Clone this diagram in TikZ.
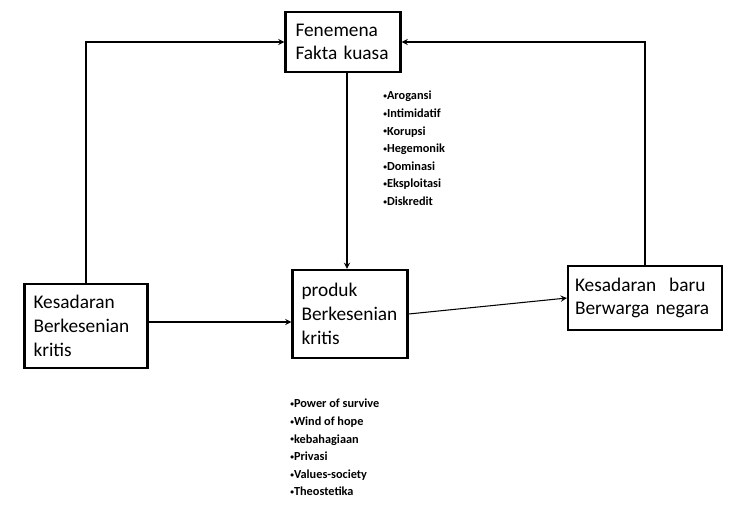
\documentclass[tikz,border=0pt]{standalone}
\usepackage{fontspec}
\setmainfont{Carlito}
\newcommand{\titik}{\raisebox{0.2ex}{\scalebox{0.6}{•}}}
\begin{document}
\begin{tikzpicture}[x=0.02cm,y=-0.02cm,
    kotak/.style={draw,line width=1.2pt,align=left,anchor=center,inner sep=0pt,font=\fontsize{11}{13.5}\selectfont},
    daftar/.style={align=left,anchor=north west,inner sep=0pt,font=\bfseries\fontsize{7}{10}\selectfont},
    panah/.style={->,>=stealth,line width=0.6pt}]
    \useasboundingbox (0,0) rectangle (732,504);

    % 绘制方框
    \node[kotak,minimum width=115*0.02cm,minimum height=60*0.02cm,text width=95*0.02cm] (fakta) at (343,42) {Fenemena\\Fakta kuasa};
    \node[kotak,minimum width=123*0.02cm,minimum height=84*0.02cm,text width=105*0.02cm] (kiri) at (86,326) {Kesadaran\\Berkesenian\\kritis};
    \node[kotak,minimum width=115*0.02cm,minimum height=88*0.02cm,text width=97*0.02cm] (produk) at (350,314) {produk\\Berkesenian\\kritis};
    \node[kotak,minimum width=154*0.02cm,minimum height=64*0.02cm,text width=140*0.02cm] (baru) at (645,298) {Kesadaran~ baru\\Berwarga negara};

    % 绘制连线
    \coordinate (atas) at (347,72);
    \coordinate (kanan) at (148,322);
    \draw[panah] (kiri.north) |- (fakta.west);
    \draw[panah] (baru.north) |- (fakta.east);
    \draw[panah] (atas) -- (atas |- produk.north);
    \draw[panah] (kanan) -- (kanan -| produk.west);
    \draw[panah] (produk.east) -- (baru.west);

    % 绘制列表
    \node[daftar] (kuasa) at (383,91) {\titik Arogansi\\\titik Intimidatif\\\titik Korupsi\\\titik Hegemonik\\\titik Dominasi\\\titik Eksploitasi\\\titik Diskredit};
    \node[daftar] (nilai) at (290,399) {\titik Power of survive\\\titik Wind of hope\\\titik kebahagiaan\\\titik Privasi\\\titik Values-society\\\titik Theostetika};
\end{tikzpicture}
\end{document}
